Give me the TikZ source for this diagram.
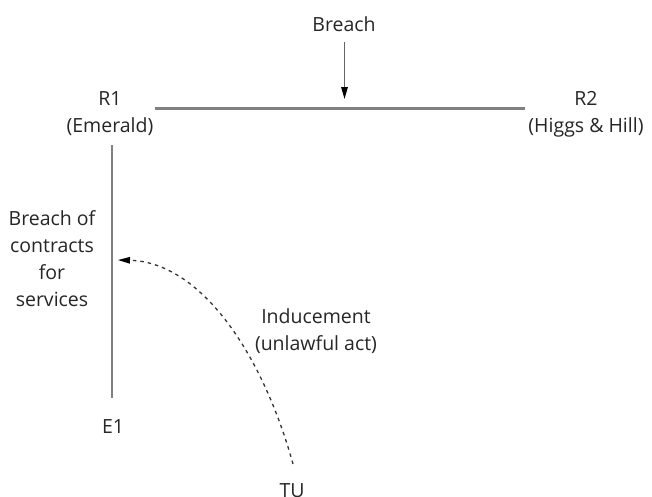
\documentclass[tikz,border=0pt]{standalone}
\usepackage{fontspec}
\setmainfont{Open Sans}
\usetikzlibrary{arrows.meta}
\begin{document}
\begin{tikzpicture}[x=1pt,y=-1pt,
  lbl/.style={font=\fontsize{19.5}{27}\selectfont, align=center, inner sep=0pt, text=black!85},
  grayline/.style={draw=black!50, line width=2.2pt},
  blackarrow/.style={draw=black!60, line width=1.5pt, -{Triangle[length=12pt,width=6.5pt,fill=black,color=black]}},
  dasharrow/.style={draw=black!80, line width=1.3pt, dash pattern=on 3.5pt off 4pt, -{Triangle[length=12pt,width=6.5pt,fill=black,color=black]}}]
\useasboundingbox (0,0) rectangle (652,496);
\node[lbl] (breach) at (344,24) {Breach};
\node[lbl] (r1) at (110,114) {R1\\(Emerald)};
\node[lbl] (r2) at (586,114) {R2\\(Higgs \& Hill)};
\node[lbl] (boc) at (52,259) {Breach of\\contracts\\for\\services};
\node[lbl] (ind) at (316,331) {Inducement\\(unlawful act)};
\node[lbl] (e1) at (113,427) {E1};
\node[lbl] (tu) at (292,491) {TU};
\coordinate (la) at (155,108.5);
\coordinate (lb) at (525,108.5);
\coordinate (va) at (112,145);
\coordinate (vb) at (112,398);
\coordinate (bs) at (344.5,42);
\coordinate (bt) at (344.5,99);
\coordinate (tus) at (293,464);
\coordinate (tip) at (118,260);
\draw[grayline] (la) -- (lb);
\draw[grayline] (va) -- (vb);
\draw[blackarrow] (bs) -- (bt);
\draw[dasharrow] (tus) .. controls (262,352) and (200,262) .. (tip);
\end{tikzpicture}
\end{document}
